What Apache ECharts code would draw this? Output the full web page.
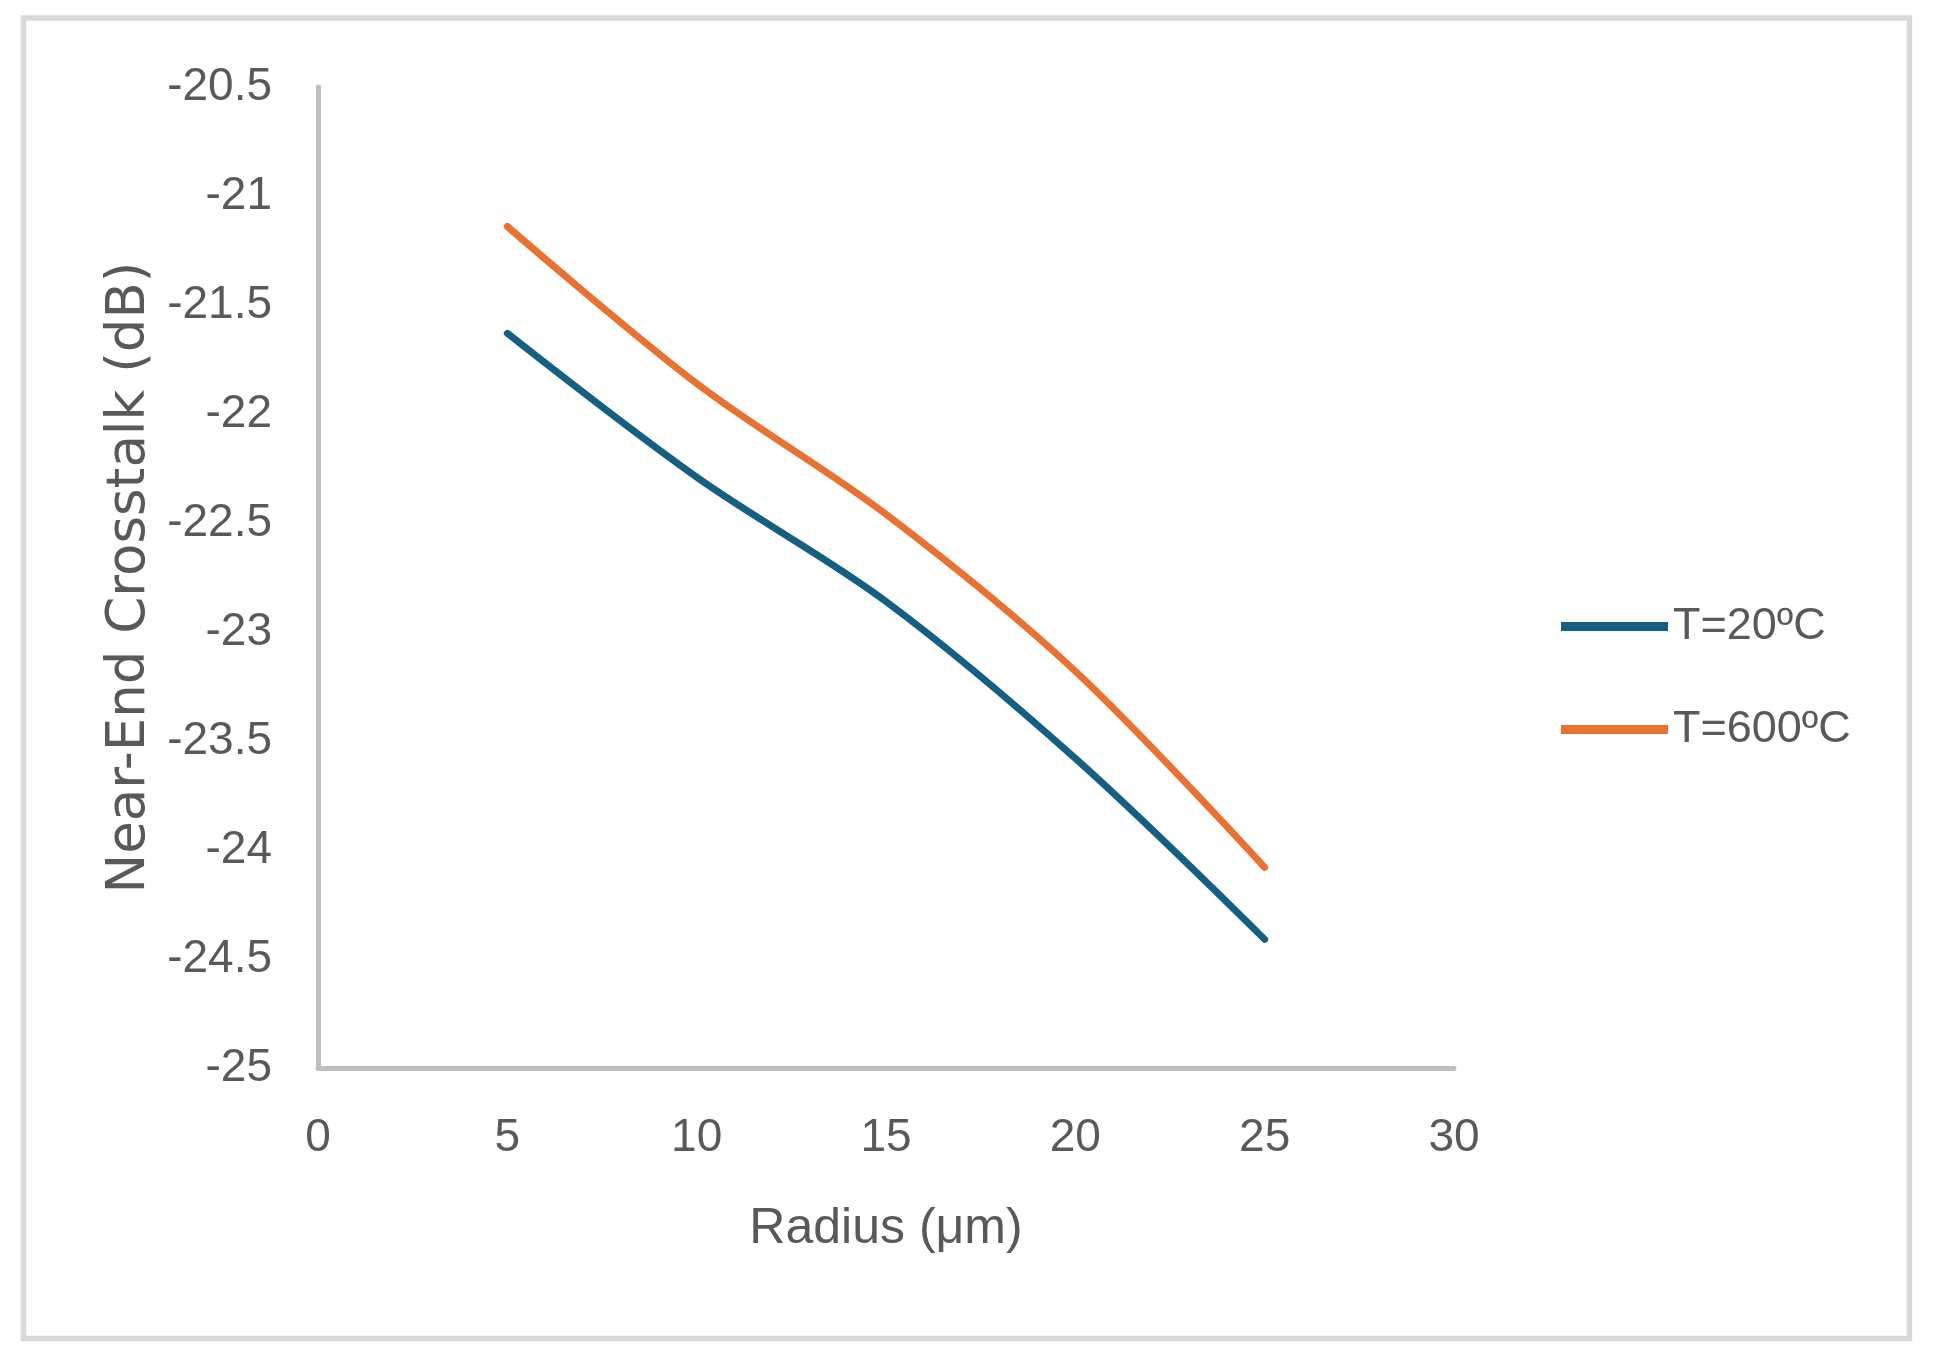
<!DOCTYPE html>
<html>
<head>
<meta charset="utf-8">
<script src="https://cdn.jsdelivr.net/npm/echarts@6/dist/echarts.min.js"></script>
<style>
html,body{margin:0;padding:0;background:#fff;}
#chart{width:1940px;height:1359px;}
</style>
</head>
<body>
<div id="chart"></div>
<script>
const radius = [5, 10, 15, 20, 25];
const t20 = [-21.63, -22.29, -22.86, -23.58, -24.41];
const t600 = [-21.14, -21.86, -22.46, -23.18, -24.08];
const seriesNames = ['T=20ºC', 'T=600ºC'];
const xTitle = 'Radius (μm)';
const yTitle = 'Near-End Crosstalk (dB)';

const font = "'Liberation Sans', Arial, sans-serif";
const textColor = '#595959';

const chart = echarts.init(document.getElementById('chart'));
chart.setOption({
  backgroundColor: '#fff',
  animation: false,
  graphic: [{
    type: 'rect',
    shape: { x: 23.5, y: 18, width: 1886, height: 1320.5 },
    style: { fill: 'none', stroke: '#d9d9d9', lineWidth: 5.5 },
    silent: true
  }],
  grid: { left: 318, right: 486, top: 87, bottom: 291 },
  legend: {
    orient: 'vertical',
    left: 1556,
    top: 599,
    itemWidth: 107,
    itemHeight: 9,
    itemGap: 58,
    textStyle: { fontFamily: font, fontSize: 45, color: textColor, padding: [0, 0, 0, 0] },
    data: seriesNames.map(n => ({ name: n, icon: 'path://M0,0L107,0L107,9L0,9Z' }))
  },
  xAxis: {
    type: 'value',
    min: 0, max: 30, interval: 5,
    name: xTitle,
    nameLocation: 'middle',
    nameGap: 136,
    nameTextStyle: { fontFamily: font, fontSize: 50, color: textColor },
    axisLine: { show: true, lineStyle: { color: '#bfbfbf', width: 5 } },
    axisTick: { show: false },
    splitLine: { show: false },
    axisLabel: { fontFamily: font, fontSize: 46, color: textColor, margin: 47 }
  },
  yAxis: {
    type: 'value',
    min: -25, max: -20.5, interval: 0.5,
    name: yTitle,
    nameLocation: 'middle',
    nameGap: 152,
    nameRotate: 90,
    nameTextStyle: { fontFamily: "'DejaVu Sans', sans-serif", fontSize: 53, color: textColor },
    axisLine: { show: true, lineStyle: { color: '#bfbfbf', width: 5 } },
    axisTick: { show: false },
    splitLine: { show: false },
    axisLabel: { fontFamily: font, fontSize: 46, color: textColor, margin: 46 }
  },
  series: [
    {
      name: seriesNames[0], type: 'line', smooth: 0.33, showSymbol: false,
      data: radius.map((x, i) => [x, t20[i]]),
      lineStyle: { color: '#156082', width: 7, cap: 'round' },
      itemStyle: { color: '#156082' }
    },
    {
      name: seriesNames[1], type: 'line', smooth: 0.33, showSymbol: false,
      data: radius.map((x, i) => [x, t600[i]]),
      lineStyle: { color: '#e97132', width: 7, cap: 'round' },
      itemStyle: { color: '#e97132' }
    }
  ]
});
</script>
</body>
</html>
